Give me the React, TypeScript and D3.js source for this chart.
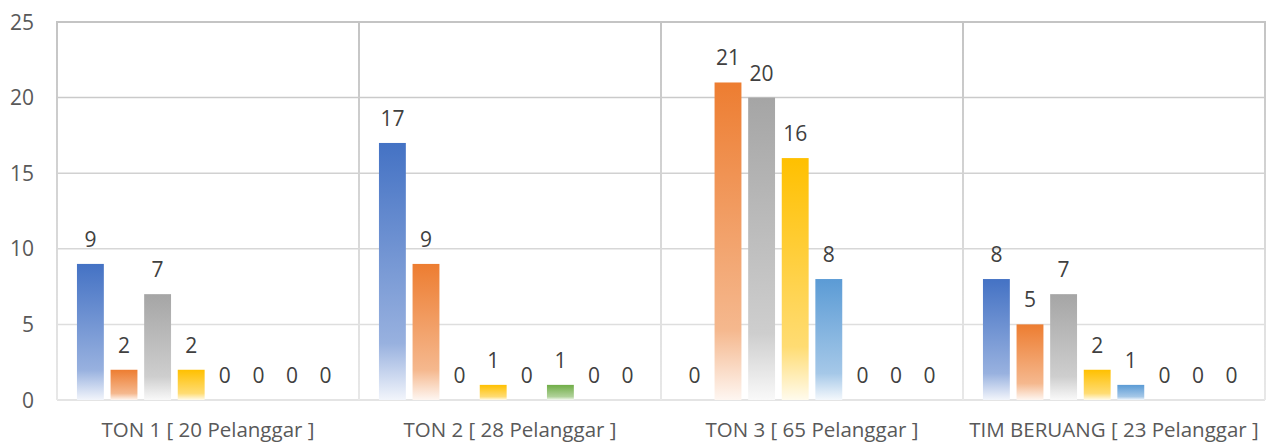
import React from "react";
import * as d3 from "d3";

const categories = [
  "TON 1 [ 20 Pelanggar ]",
  "TON 2 [ 28 Pelanggar ]",
  "TON 3 [ 65 Pelanggar ]",
  "TIM BERUANG [ 23 Pelanggar ]",
];
const seriesNames = ["S1", "S2", "S3", "S4", "S5", "S6", "S7", "S8"];
const s1 = [9, 17, 0, 8];
const s2 = [2, 9, 21, 5];
const s3 = [7, 0, 20, 7];
const s4 = [2, 1, 16, 2];
const s5 = [0, 0, 8, 1];
const s6 = [0, 1, 0, 0];
const s7 = [0, 0, 0, 0];
const s8 = [0, 0, 0, 0];
const seriesValues = [s1, s2, s3, s4, s5, s6, s7, s8];
const seriesColors = ["#4472C4", "#ED7D31", "#A5A5A5", "#FFC000", "#5B9BD5", "#70AD47", "#264478", "#9E480E"];
const yTicks = [0, 5, 10, 15, 20, 25];

const W = 1277;
const H = 445;
const M = { left: 57, right: 12, top: 22, bottom: 45 };

export default function App() {
  const x0 = d3.scaleBand<string>().domain(categories).range([M.left, W - M.right]).paddingInner(0).paddingOuter(0);
  const x1 = d3
    .scaleBand<string>()
    .domain(seriesNames)
    .range([0, x0.bandwidth()])
    .paddingInner(0.2)
    .paddingOuter(0.594);
  const y = d3.scaleLinear().domain([0, 25]).range([H - M.bottom, M.top]);
  const font = "'Open Sans', sans-serif";
  const lighten = (c: string, t: number) => d3.interpolateRgb(c, "#ffffff")(t);

  return (
    <svg width={W} height={H} style={{ position: "absolute", left: 0, top: 0, background: "#fff" }}>
      <defs>
        <linearGradient id="lineGrad" gradientUnits="userSpaceOnUse" x1="0" y1={M.top} x2="0" y2={H - M.bottom}>
          <stop offset="0" stopColor="#C4C4C4" />
          <stop offset="1" stopColor="#E8E8E8" />
        </linearGradient>
        {seriesColors.map((c, i) => (
          <linearGradient key={i} id={`g${i}`} x1="0" y1="0" x2="0" y2="1">
            <stop offset="0" stopColor={c} />
            <stop offset="0.78" stopColor={lighten(c, 0.45)} />
            <stop offset="1" stopColor={lighten(c, 0.93)} />
          </linearGradient>
        ))}
      </defs>
      {yTicks.map((t) => (
        <line
          key={t}
          x1={M.left}
          x2={W - M.right}
          y1={y(t)}
          y2={y(t)}
          stroke={d3.interpolateRgb("#C4C4C4", "#E4E4E4")((25 - t) / 25)}
          strokeWidth={t === 25 || t === 0 ? 2 : 1.5}
        />
      ))}
      {[...categories.map((c) => x0(c) as number), W - M.right].map((xx, i) => (
        <rect key={i} x={xx - 1} y={M.top - 1} width={2} height={H - M.bottom - M.top + 1} fill="url(#lineGrad)" />
      ))}
      {yTicks.map((t) => (
        <text key={t} x={34} y={y(t) + 7.5} textAnchor="end" fontFamily={font} fontSize={21} fill="#595959">
          {t}
        </text>
      ))}
      {categories.map((c, ci) => (
        <g key={c} transform={`translate(${x0(c)},0)`}>
          {seriesNames.map((s, si) => {
            const v = seriesValues[si][ci];
            const bx = x1(s) as number;
            const bw = x1.bandwidth();
            return (
              <g key={s}>
                {v > 0 && (
                  <rect x={bx} y={y(v)} width={bw} height={y(0) - y(v)} fill={`url(#g${si})`} />
                )}
                <text
                  x={bx + bw / 2}
                  y={y(v) - 17}
                  textAnchor="middle"
                  fontFamily={font}
                  fontSize={21}
                  fill="#404040"
                >
                  {v}
                </text>
              </g>
            );
          })}
          <text
            x={x0.bandwidth() / 2}
            y={437}
            textAnchor="middle"
            fontFamily={font}
            fontSize={20.5}
            fill="#595959"
          >
            {c}
          </text>
        </g>
      ))}
    </svg>
  );
}
